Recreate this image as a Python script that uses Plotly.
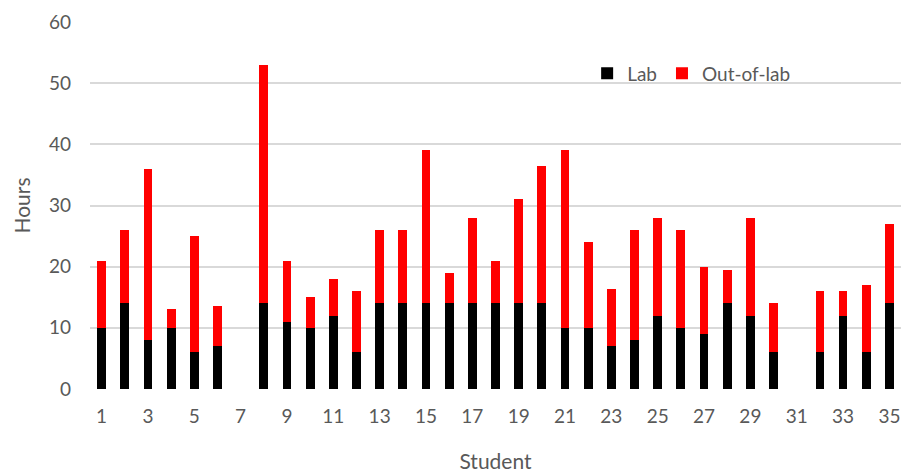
import plotly.graph_objects as go

# Weekly hours per student, split into lab and out-of-lab time
students = list(range(1, 36))
lab_hours = [10, 14, 8, 10, 6, 7, None, 14, 11, 10,
             12, 6, 14, 14, 14, 14, 14, 14, 14, 14,
             10, 10, 7, 8, 12, 10, 9, 14, 12, 6,
             None, 6, 12, 6, 14]
out_of_lab_hours = [11, 12, 28, 3, 19, 6.5, None, 39, 10, 5,
                    6, 10, 12, 12, 25, 5, 14, 7, 17, 22.5,
                    29, 14, 9.3, 18, 16, 16, 11, 5.5, 16, 8,
                    None, 10, 4, 11, 13]
y_ticks = [0, 10, 20, 30, 40, 50, 60]
x_ticks = list(range(1, 36, 2))

FONT = "Lato"
GREY = "#595959"

fig = go.Figure()
fig.add_trace(go.Bar(x=students, y=lab_hours, name="Lab",
                     marker=dict(color="#000000", line=dict(width=0))))
fig.add_trace(go.Bar(x=students, y=out_of_lab_hours, name="Out-of-lab",
                     marker=dict(color="#ff0000", line=dict(width=0))))

fig.update_layout(
    barmode="stack",
    bargap=0.62,
    width=904, height=473,
    margin=dict(l=90, r=3, t=22, b=84),
    plot_bgcolor="white", paper_bgcolor="white",
    font=dict(family=FONT, size=19, color=GREY),
    legend=dict(orientation="h", x=0.613, y=0.86, xanchor="left", yanchor="middle",
                font=dict(size=19, color=GREY), bgcolor="rgba(0,0,0,0)",
                itemwidth=30, traceorder="normal"),
    xaxis=dict(range=[0.5, 35.5], tickvals=x_ticks, ticktext=[str(v) for v in x_ticks],
               showgrid=False, zeroline=False, showline=False, ticks="",
               ticklabelstandoff=14,
               title=dict(text="Student", font=dict(size=21, color=GREY), standoff=29)),
    yaxis=dict(range=[0, 60], tickvals=y_ticks, showgrid=True, gridcolor="#d9d9d9",
               gridwidth=2, zeroline=False, showline=False, ticks="",
               ticklabelstandoff=18,
               title=dict(text="Hours", font=dict(size=21, color=GREY), standoff=12)),
)

fig.write_html("out.html")
